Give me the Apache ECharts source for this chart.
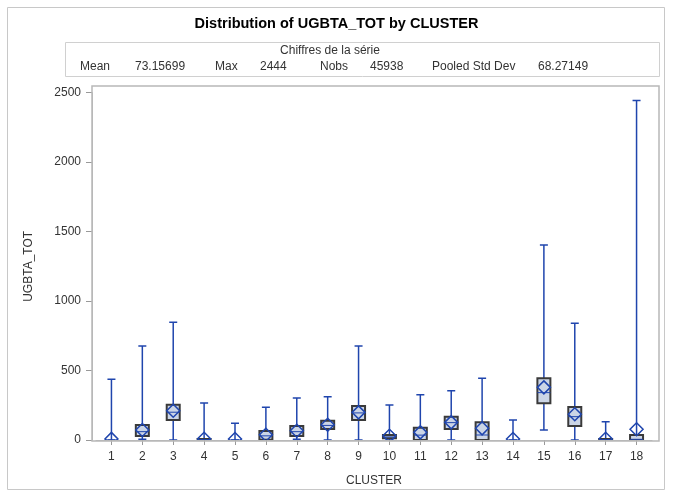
<!DOCTYPE html>
<html>
<head>
<meta charset="utf-8">
<script src="https://cdn.jsdelivr.net/npm/echarts@6/dist/echarts.min.js"></script>
<style>
  html, body { margin: 0; padding: 0; background: #fff; }
  #chart { width: 673px; height: 497px; }
</style>
</head>
<body>
<div id="chart"></div>
<script>
// Box-and-whisker summary of UGBTA_TOT for each CLUSTER
const clusters = ['1','2','3','4','5','6','7','8','9','10','11','12','13','14','15','16','17','18'];
const whiskerLow  = [0, 5, 0, 0, 0, 2, 5, 0, 0, 0, 0, 0, 0, 0, 72, 0, 0, 0];
const q1          = [0, 29, 144, 0, 0, 2, 29, 79, 144, 12, 0, 79, 0, 0, 264, 101, 0, 0];
const median      = [0, 60, 200, 3, 0, 30, 60, 105, 195, 22, 35, 125, 36, 0, 341, 168, 3, 5];
const q3          = [0, 108, 254, 8, 0, 65, 101, 139, 245, 36, 89, 168, 127, 0, 444, 238, 8, 36];
const whiskerHigh = [437, 677, 847, 266, 120, 235, 302, 312, 677, 252, 326, 355, 444, 144, 1404, 840, 132, 2444];
const means       = [8, 72, 211, 9, 7, 38, 67, 110, 199, 30, 55, 127, 84, 7, 379, 185, 9, 77];

const yTicks = [0, 500, 1000, 1500, 2000, 2500];

// Summary statistics shown under the title
const statLabels = ['Mean', '73.15699', 'Max', '2444', 'Nobs', '45938', 'Pooled Std Dev', '68.27149'];

const BLUE = '#1f45ad';
const BOX_FILL = '#cbd5e6';
const BOX_EDGE = '#3a3a3a';
const FONT = '"Liberation Sans", Arial, sans-serif';

const boxData = clusters.map((c, i) => [i, whiskerLow[i], q1[i], median[i], q3[i], whiskerHigh[i], means[i]]);

function renderBox(params, api) {
  const idx = api.value(0);
  const x = api.coord([idx, 0])[0];
  const y = v => api.coord([idx, v])[1];
  const yLow = y(api.value(1)), yQ1 = y(api.value(2)), yMed = y(api.value(3));
  const yQ3 = y(api.value(4)), yHigh = y(api.value(5)), yMean = y(api.value(6));
  const hw = 6.5, cap = 4, d = 6.5;
  const children = [
    { type: 'line', shape: { x1: x, y1: yHigh, x2: x, y2: yLow }, style: { stroke: BLUE, lineWidth: 1.5 } },
    { type: 'line', shape: { x1: x - cap, y1: yHigh, x2: x + cap, y2: yHigh }, style: { stroke: BLUE, lineWidth: 1.5 } },
    { type: 'line', shape: { x1: x - cap, y1: yLow, x2: x + cap, y2: yLow }, style: { stroke: BLUE, lineWidth: 1.5 } }
  ];
  if (api.value(4) > api.value(2)) {
    children.push({ type: 'rect', shape: { x: x - hw, y: yQ3, width: hw * 2, height: yQ1 - yQ3 },
      style: { fill: BOX_FILL, stroke: BOX_EDGE, lineWidth: 2 } });
  }
  children.push({ type: 'line', shape: { x1: x - hw, y1: yMed, x2: x + hw, y2: yMed }, style: { stroke: BLUE, lineWidth: 1 } });
  children.push({ type: 'polygon',
    shape: { points: [[x, yMean - d], [x + d, yMean], [x, yMean + d], [x - d, yMean]] },
    style: { fill: 'none', stroke: BLUE, lineWidth: 1.5 } });
  return { type: 'group', children: children };
}

const statX = [80, 135, 215, 260, 320, 370, 432, 538];

const chart = echarts.init(document.getElementById('chart'), null, { renderer: 'canvas' });
chart.setOption({
  animation: false,
  backgroundColor: '#fff',
  title: {
    text: 'Distribution of UGBTA_TOT by CLUSTER',
    left: 'center', top: 11,
    textStyle: { fontFamily: FONT, fontSize: 14.5, fontWeight: 'bold', color: '#000' }
  },
  graphic: [
    { type: 'rect', shape: { x: 7.5, y: 7.5, width: 657, height: 482 }, style: { fill: 'none', stroke: '#c8c8c8', lineWidth: 1 }, z: 0 },
    { type: 'rect', shape: { x: 65.5, y: 42.5, width: 594, height: 34 }, style: { fill: 'none', stroke: '#d0d0d0', lineWidth: 1 }, z: 0 },
    { type: 'text', x: 330, y: 51, style: { text: 'Chiffres de la série', fontFamily: FONT, fontSize: 12, fill: '#333', align: 'center', verticalAlign: 'middle' } }
  ].concat(statLabels.map((t, i) => ({
    type: 'text', x: statX[i], y: 67,
    style: { text: t, fontFamily: FONT, fontSize: 12, fill: '#333', align: 'left', verticalAlign: 'middle' }
  }))).concat([
    { type: 'rect', shape: { x: 92, y: 86, width: 567, height: 355 }, style: { fill: 'none', stroke: '#b8b8b8', lineWidth: 1.5 }, z: 10 }
  ]),
  grid: { left: 96, right: 21, top: 92.7, bottom: 57 },
  xAxis: {
    type: 'category',
    data: clusters,
    offset: 1,
    axisLine: { show: true, lineStyle: { color: '#b8b8b8' } },
    axisTick: { show: true, alignWithLabel: true, length: 5, lineStyle: { color: '#999' } },
    axisLabel: { fontFamily: FONT, fontSize: 12, color: '#333', margin: 10 },
    name: 'CLUSTER', nameLocation: 'middle', nameGap: 34,
    nameTextStyle: { fontFamily: FONT, fontSize: 12, color: '#333' }
  },
  yAxis: {
    type: 'value',
    min: yTicks[0], max: yTicks[yTicks.length - 1], interval: 500,
    offset: 4,
    axisLine: { show: true, lineStyle: { color: '#b8b8b8' } },
    axisTick: { show: true, length: 6, lineStyle: { color: '#999' } },
    axisLabel: { fontFamily: FONT, fontSize: 12, color: '#333', margin: 11, formatter: v => String(v) },
    splitLine: { show: false },
    name: 'UGBTA_TOT', nameLocation: 'middle', nameGap: 57,
    nameTextStyle: { fontFamily: FONT, fontSize: 12, color: '#333' }
  },
  series: [{
    type: 'custom',
    renderItem: renderBox,
    clip: true,
    data: boxData,
    encode: { x: 0, y: [1, 2, 3, 4, 5, 6] }
  }]
});
</script>
</body>
</html>
